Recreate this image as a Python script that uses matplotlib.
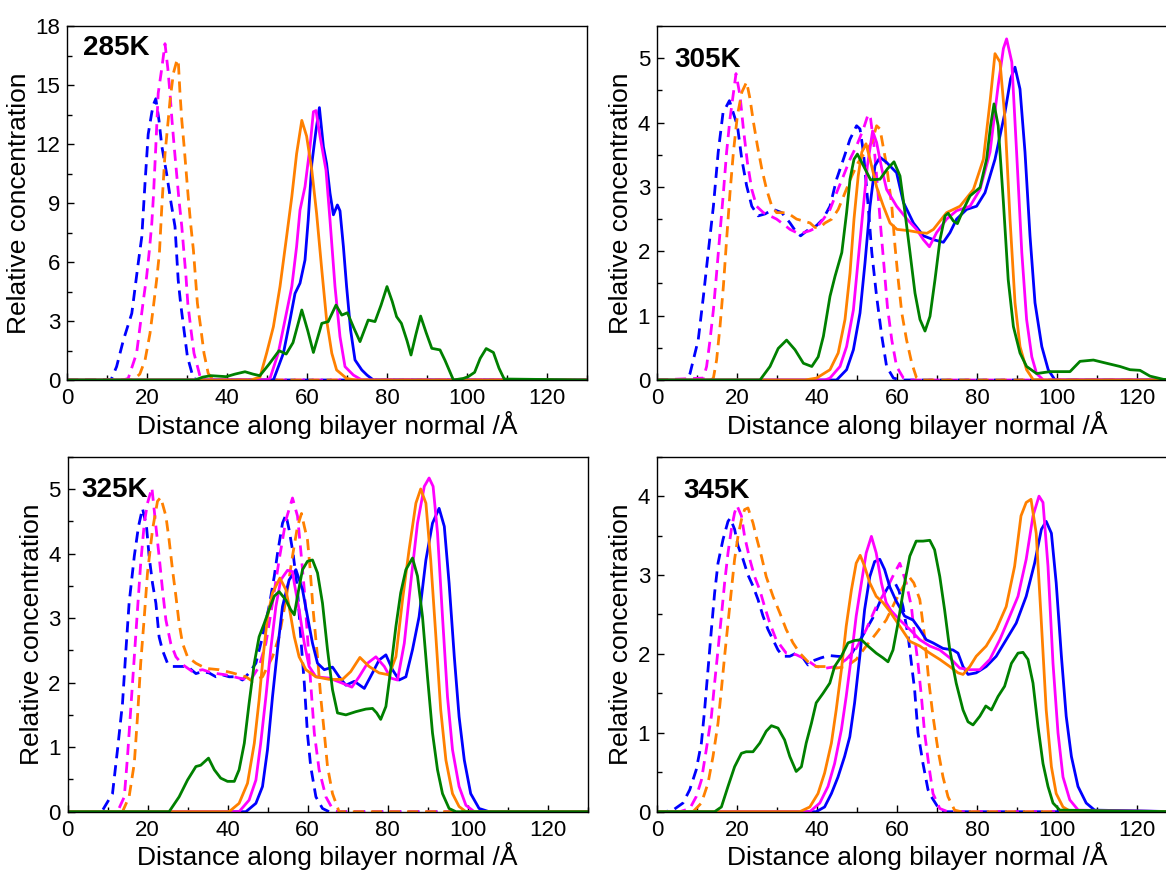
import matplotlib
matplotlib.use("Agg")
import matplotlib.pyplot as plt
from matplotlib.ticker import MultipleLocator

plt.rcParams['font.family'] = ['Liberation Sans', 'DejaVu Sans']

# ---- 285K ----
x285_bd = [0, 11, 12.4, 14.1, 16.2, 17.8, 18.7, 19.5, 20.3, 21.2, 21.6, 22.2, 23.0, 23.7, 24.9, 25.9, 27.0, 27.4, 27.8, 28.4, 29.25, 30.1, 31.6, 33, 130]
y285_bd = [0, 0, 0.68, 2.03, 3.39, 5.93, 7.29, 10.0, 12.5, 13.6, 14.0, 14.3, 13.2, 11.9, 10.5, 9.15, 7.8, 6.44, 5.08, 3.9, 2.54, 1.19, 0.08, 0, 0]
x285_md = [0, 14, 15.3, 17.4, 18.25, 19.1, 19.9, 20.6, 21.2, 21.6, 22.2, 22.8, 23.7, 24.5, 25.2, 25.75, 26.25, 26.8, 27.4, 28.0, 28.7, 29.25, 29.75, 30.2, 31.0, 31.75, 33.5, 130]
y285_md = [0, 0, 0.08, 1.36, 2.71, 4.07, 5.25, 6.61, 7.97, 9.32, 11.86, 14.58, 15.85, 17.1, 15.85, 14.58, 13.2, 11.86, 10.5, 9.15, 7.8, 6.44, 5.25, 3.9, 2.54, 1.36, 0, 0]
x285_od = [0, 16.5, 18.2, 19.5, 20.75, 21.6, 22.4, 23.1, 23.7, 24.5, 25.3, 25.75, 26.6, 27.4, 27.8, 28.25, 28.7, 29.25, 29.75, 30.3, 30.9, 31.6, 32.1, 32.6, 33.4, 34.25, 35.3, 36.5, 130]
y285_od = [0, 0, 0.3, 1.0, 2.37, 3.73, 5.08, 6.44, 8.8, 11.5, 13.2, 14.2, 15.6, 16.2, 16.3, 14.58, 13.2, 11.95, 10.7, 9.32, 7.97, 6.61, 5.25, 3.9, 2.71, 1.36, 0.34, 0, 0]
x285_b = [0, 51.6, 54.1, 55.75, 57, 58.25, 59.5, 60.3, 61.2, 62.25, 63.1, 64.1, 64.9, 65.75, 66.6, 67.6, 68.25, 69.1, 69.9, 70.9, 72, 73.7, 75, 76.6, 130]
y285_b = [0, 0, 1.36, 3.05, 4.4, 4.92, 6.1, 8.13, 11.0, 12.7, 13.85, 11.86, 11.0, 9.5, 8.4, 8.9, 8.6, 6.78, 4.75, 2.54, 1.02, 0.51, 0.25, 0, 0]
x285_m = [0, 49.5, 50.75, 52.8, 54.5, 56.2, 57.4, 58.25, 59.5, 60.75, 61.6, 62.25, 63.25, 64.75, 65.75, 67, 68.25, 69.5, 71.6, 73.7, 130]
y285_m = [0, 0, 0.08, 1.36, 3.05, 4.75, 6.78, 8.64, 9.83, 11.86, 13.64, 13.7, 12.4, 10.67, 8.13, 4.75, 2.2, 0.68, 0.25, 0, 0]
x285_o = [0, 46, 48.25, 49.9, 51.6, 53.25, 54.9, 56.2, 57.4, 58.7, 59.9, 61.2, 62.4, 63.7, 64.9, 66.2, 67.4, 69.9, 72, 130]
y285_o = [0, 0, 0.15, 1.36, 2.71, 4.75, 7.29, 9.32, 11.5, 13.2, 12.4, 10.67, 8.47, 5.59, 3.05, 1.36, 0.51, 0.08, 0, 0]
x285_g = [0, 32, 34, 36, 39.8, 42, 44.5, 46.5, 48.2, 50.5, 53, 54.8, 56.5, 58.7, 60.2, 61.6, 63.7, 65.3, 67.25, 68.7, 70.1, 71.8, 73.25, 75.3, 77, 78.5, 80, 81.3, 82.4, 83.6, 85, 86, 87.2, 88.4, 89.8, 91.2, 93.25, 94.5, 96.6, 99.1, 100.3, 101.9, 103.3, 104.8, 106.6, 108, 109.3, 130]
y285_g = [0, 0, 0.15, 0.22, 0.17, 0.3, 0.42, 0.3, 0.22, 0.8, 1.49, 1.32, 1.9, 3.56, 2.5, 1.4, 2.88, 2.97, 3.81, 3.3, 3.42, 2.6, 1.95, 3.05, 2.97, 3.8, 4.75, 4.0, 3.22, 2.88, 2.0, 1.27, 2.3, 3.25, 2.4, 1.61, 1.53, 1.0, 0, 0.08, 0.17, 0.39, 1.1, 1.6, 1.4, 0.6, 0.05, 0]

# ---- 305K ----
x305_bd = [0, 7.5, 8.25, 10.3, 11.6, 12.8, 14.1, 15.3, 16.5, 18.1, 20.1, 21.2, 22.4, 23.7, 25.3, 27, 29.1, 31.2, 33.25, 34.9, 35.9, 37.5, 39.9, 41.5, 43.25, 44.9, 46.6, 48.25, 49.9, 50.75, 51.6, 52.8, 53.7, 54.9, 56.2, 57.4, 59.1, 61, 130]
y305_bd = [0, 0, 0.1, 0.62, 1.3, 1.98, 2.7, 3.54, 4.15, 4.34, 3.95, 3.43, 3.02, 2.7, 2.55, 2.58, 2.65, 2.6, 2.44, 2.29, 2.24, 2.32, 2.4, 2.5, 2.7, 3.12, 3.43, 3.74, 3.95, 3.9, 3.54, 2.7, 1.98, 1.3, 0.68, 0.21, 0.03, 0, 0]
x305_md = [0, 11.6, 12.4, 13.25, 14.1, 14.9, 15.75, 16.6, 17.4, 18.25, 19.75, 20.75, 21.6, 22.6, 23.7, 24.9, 26.6, 28.25, 29.9, 31.6, 33.25, 34.9, 36.6, 38.25, 39.9, 41.6, 43.25, 44.9, 46.6, 48.25, 49.9, 51.6, 52.8, 53.4, 54.25, 55.1, 55.9, 56.75, 57.6, 58.7, 59.9, 61.6, 63, 130]
y305_md = [0, 0.03, 0.21, 0.62, 1.09, 1.66, 2.29, 2.91, 3.54, 4.06, 4.76, 4.42, 3.9, 3.38, 2.96, 2.7, 2.6, 2.55, 2.5, 2.42, 2.34, 2.29, 2.29, 2.32, 2.37, 2.5, 2.65, 2.91, 3.17, 3.43, 3.64, 3.9, 4.13, 4.06, 3.64, 3.02, 2.39, 1.77, 1.14, 0.62, 0.21, 0.03, 0, 0]
x305_od = [0, 13.5, 14.1, 14.9, 15.75, 16.6, 17.4, 18.25, 19.1, 20.1, 21.2, 22.4, 23.25, 24.1, 25.1, 26.2, 27.4, 28.7, 29.9, 31.6, 33.25, 34.9, 36.6, 38.25, 39.5, 40.75, 42, 43.7, 45.3, 47, 48.7, 50.3, 52, 53.7, 54.9, 55.75, 57.4, 58.7, 59.5, 60.3, 61.2, 62.4, 63.7, 64.9, 66, 130]
y305_od = [0, 0, 0.03, 0.31, 0.83, 1.46, 2.18, 2.91, 3.54, 4.11, 4.47, 4.63, 4.37, 4.01, 3.64, 3.28, 2.96, 2.7, 2.6, 2.6, 2.57, 2.5, 2.47, 2.44, 2.37, 2.37, 2.44, 2.5, 2.65, 2.91, 3.17, 3.38, 3.54, 3.69, 3.95, 3.9, 3.33, 2.7, 2.08, 1.56, 1.04, 0.62, 0.26, 0.03, 0, 0]
x305_b = [0, 44.9, 47.4, 49.1, 50.75, 52, 53.25, 54.5, 55.75, 57.4, 59.9, 61.6, 64.1, 66.6, 69.1, 71.6, 73.25, 74.9, 77.4, 79.9, 82, 84.5, 87, 88.4, 89.5, 90.75, 92, 93.25, 94.5, 96.2, 97.8, 99.5, 130]
y305_b = [0, 0, 0.16, 0.47, 1.04, 1.82, 2.7, 3.33, 3.46, 3.38, 3.22, 2.76, 2.44, 2.24, 2.18, 2.14, 2.29, 2.5, 2.65, 2.7, 2.91, 3.43, 4.16, 4.68, 4.86, 4.52, 3.54, 2.24, 1.2, 0.52, 0.16, 0, 0]
x305_m = [0, 42, 43.25, 45.75, 47.4, 49.1, 50.3, 51.6, 52.6, 53.9, 54.9, 56.2, 57.4, 59.9, 62.5, 64.9, 66.6, 68.1, 69.9, 72.4, 74.9, 78.25, 80.75, 83.25, 85.3, 86.6, 87.4, 88.7, 89.9, 91.2, 92.4, 93.7, 94.9, 96.6, 130]
y305_m = [0, 0, 0.03, 0.21, 0.52, 1.09, 1.87, 2.7, 3.33, 3.87, 3.69, 3.28, 2.96, 2.7, 2.5, 2.34, 2.18, 2.07, 2.29, 2.5, 2.63, 2.7, 2.96, 3.54, 4.58, 5.15, 5.3, 4.94, 3.54, 1.98, 0.94, 0.36, 0.1, 0, 0]
x305_o = [0, 37, 39.9, 43.25, 45.3, 47, 48.25, 49.25, 50.3, 51.2, 52.25, 53.25, 54.9, 56.6, 58.25, 60, 63, 65.75, 67.5, 69.1, 72.4, 75.75, 79.1, 81.6, 83.25, 84.5, 85.75, 87, 88.25, 89.5, 90.75, 92.4, 94.1, 130]
y305_o = [0, 0, 0.03, 0.16, 0.42, 0.94, 1.66, 2.5, 3.17, 3.54, 3.67, 3.43, 3.0, 2.7, 2.44, 2.34, 2.32, 2.29, 2.28, 2.34, 2.6, 2.7, 2.96, 3.43, 4.32, 5.07, 4.94, 4.05, 2.5, 1.2, 0.52, 0.16, 0, 0]
x305_g = [0, 25.75, 28.25, 30.3, 32.4, 34.5, 36.6, 38.7, 40.3, 41.6, 43.25, 44.5, 46.2, 47.4, 48.25, 49.25, 50.1, 51.6, 53.4, 55.75, 57.6, 59.25, 60.75, 62, 63.25, 64.5, 65.75, 67, 68.25, 69.5, 70.75, 72, 72.8, 74.1, 75.1, 76.6, 78.25, 80.75, 82.4, 83.4, 84.25, 85.3, 86.6, 87.8, 89.1, 90.75, 92.4, 94.9, 98.25, 100.75, 103.25, 105.75, 109.1, 112.4, 115.75, 118.25, 120.75, 123.25, 126.6, 130]
y305_g = [0, 0, 0.21, 0.49, 0.62, 0.47, 0.26, 0.21, 0.36, 0.68, 1.3, 1.61, 1.98, 2.6, 3.12, 3.43, 3.51, 3.33, 3.11, 3.12, 3.28, 3.39, 3.17, 2.6, 1.98, 1.35, 0.94, 0.76, 0.99, 1.56, 2.18, 2.55, 2.59, 2.47, 2.43, 2.65, 2.86, 2.99, 3.43, 3.95, 4.29, 3.95, 2.76, 1.56, 0.83, 0.42, 0.21, 0.1, 0.13, 0.13, 0.13, 0.29, 0.31, 0.26, 0.21, 0.16, 0.15, 0.06, 0.01, 0]

# ---- 325K ----
x325_bd = [0, 7.5, 8.75, 11.25, 12.5, 13.75, 14.6, 15.4, 16.7, 17.75, 18.75, 19.75, 20.4, 21.25, 22.1, 22.9, 23.75, 25, 26.25, 27.9, 30, 32.1, 33.75, 35.4, 37.1, 38.75, 40.4, 42.1, 43.75, 45.4, 47.1, 48.75, 50.4, 51.7, 52.5, 53.75, 54.6, 55.4, 56.4, 57.5, 58.3, 59.2, 60, 60.8, 62.1, 63.75, 65.4, 130]
y325_bd = [0, 0, 0.02, 0.28, 0.96, 1.68, 2.5, 3.23, 3.96, 4.42, 4.7, 4.42, 3.96, 3.54, 3.23, 2.71, 2.5, 2.3, 2.25, 2.25, 2.25, 2.14, 2.17, 2.15, 2.09, 2.12, 2.09, 2.09, 2.04, 2.15, 2.3, 2.71, 3.18, 3.65, 4.0, 4.47, 4.6, 4.37, 4.0, 3.44, 2.71, 1.99, 1.2, 0.7, 0.23, 0.05, 0, 0]
x325_md = [0, 12.5, 14.2, 15, 15.8, 16.7, 17.5, 18.3, 19.2, 20, 21.1, 22.1, 22.9, 23.75, 24.6, 25.8, 27.1, 28.75, 31.25, 33.75, 36.25, 39.6, 42.9, 45.8, 47.9, 49.6, 51.25, 52.9, 54.6, 56.25, 57.5, 58.3, 59.2, 60, 60.8, 61.7, 62.9, 64.6, 66.2, 67.9, 130]
y325_md = [0, 0, 0.23, 0.85, 1.58, 2.4, 3.13, 3.85, 4.47, 4.78, 5.02, 4.42, 3.96, 3.44, 2.97, 2.61, 2.4, 2.28, 2.17, 2.2, 2.15, 2.12, 2.07, 2.04, 2.25, 2.61, 3.23, 3.9, 4.52, 4.86, 4.58, 4.06, 3.44, 2.71, 1.99, 1.22, 0.65, 0.23, 0.05, 0, 0]
x325_od = [0, 13.75, 15.4, 16.7, 17.5, 18.3, 19.2, 20, 21.25, 22.5, 23.3, 24.6, 25.4, 26.25, 27.1, 27.9, 28.75, 30, 32.1, 34.6, 37.9, 41.25, 44.6, 46.25, 48.75, 51.25, 52.9, 54.6, 56.25, 57.5, 58.5, 59.2, 60, 60.6, 61.4, 62.5, 63.3, 64.2, 65, 66.25, 67.9, 130]
y325_od = [0, 0, 0.23, 0.75, 1.47, 2.3, 3.02, 3.7, 4.37, 4.81, 4.87, 4.58, 4.21, 3.75, 3.34, 2.92, 2.61, 2.4, 2.3, 2.22, 2.2, 2.15, 2.09, 2.02, 2.09, 2.4, 2.71, 3.28, 3.96, 4.42, 4.62, 4.42, 4.21, 3.8, 3.13, 2.4, 1.78, 1.22, 0.7, 0.28, 0, 0]
x325_b = [0, 44.6, 47.1, 48.75, 50, 51.25, 52.5, 53.75, 55.4, 57.1, 58.75, 60, 61.25, 62.5, 64.2, 66.25, 67.9, 69.6, 71.7, 74.2, 76.25, 77.9, 79.6, 81.25, 82.9, 84.6, 86.25, 87.9, 89.6, 91.25, 92.9, 94.2, 95.4, 96.7, 97.9, 99.2, 100.8, 102.9, 105.4, 130]
y325_b = [0, 0, 0.13, 0.39, 0.96, 1.78, 2.51, 3.18, 3.59, 3.75, 3.44, 3.02, 2.61, 2.3, 2.2, 2.24, 2.09, 1.96, 2.02, 1.91, 2.15, 2.35, 2.43, 2.2, 2.04, 2.09, 2.51, 3.02, 3.9, 4.47, 4.7, 4.42, 3.54, 2.4, 1.47, 0.8, 0.28, 0.05, 0, 0]
x325_m = [0, 42.9, 45.4, 47.1, 48.3, 49.6, 50.8, 52.1, 53.3, 55, 56.25, 56.7, 57.9, 59.2, 60.4, 62.1, 65.4, 68.75, 71.1, 72.9, 75, 77.1, 79.2, 80.8, 82.5, 84.2, 85.8, 87.5, 89.2, 90.4, 91.4, 92.5, 93.75, 95, 96.25, 97.9, 99.6, 101.7, 130]
y325_m = [0, 0, 0.18, 0.49, 1.06, 1.78, 2.51, 3.18, 3.59, 3.74, 3.72, 3.54, 3.13, 2.61, 2.25, 2.09, 2.07, 1.99, 1.93, 2.09, 2.3, 2.4, 2.25, 2.07, 2.04, 2.61, 3.54, 4.47, 5.04, 5.17, 5.04, 4.32, 3.02, 1.78, 0.96, 0.39, 0.1, 0, 0]
x325_o = [0, 40.4, 42.9, 45, 46.7, 47.9, 48.9, 50, 51.25, 53.1, 54.6, 55.4, 56.7, 57.9, 59.6, 62.1, 65.4, 68.75, 70.8, 73.1, 75.4, 77.9, 80.4, 82.1, 83.75, 85.4, 87.1, 88.3, 89.6, 90.8, 92.1, 93.3, 94.6, 96.25, 97.9, 99.6, 130]
y325_o = [0, 0, 0.13, 0.44, 1.06, 1.73, 2.4, 3.02, 3.39, 3.62, 3.44, 3.18, 2.71, 2.4, 2.2, 2.09, 2.05, 2.05, 2.17, 2.39, 2.25, 2.15, 2.12, 2.4, 3.28, 4.06, 4.78, 5.0, 4.78, 3.9, 2.71, 1.58, 0.8, 0.28, 0.08, 0, 0]
x325_g = [0, 25.4, 27.9, 30, 32.1, 33.3, 35.25, 36.7, 38.3, 40, 41.7, 42.9, 44.2, 45.4, 46.7, 47.9, 49.2, 50.4, 51.7, 52.9, 54.6, 55.8, 56.7, 57.5, 58.75, 60, 61.25, 62.5, 63.75, 65, 66.25, 67.5, 69.6, 72.1, 74.6, 76.25, 77.3, 78.3, 79.6, 80.8, 82.1, 83.3, 84.6, 86.25, 87.5, 88.75, 90, 91.25, 92.5, 93.75, 95.4, 97.1, 130]
y325_g = [0, 0, 0.23, 0.49, 0.7, 0.72, 0.83, 0.65, 0.52, 0.47, 0.47, 0.65, 1.06, 1.68, 2.3, 2.71, 2.92, 3.13, 3.34, 3.41, 3.28, 3.13, 3.05, 3.34, 3.75, 3.88, 3.9, 3.7, 3.23, 2.51, 1.89, 1.53, 1.5, 1.55, 1.59, 1.6, 1.53, 1.43, 1.63, 2.2, 2.87, 3.39, 3.75, 3.93, 3.65, 3.02, 2.09, 1.22, 0.65, 0.28, 0.05, 0, 0]

# ---- 345K ----
x345_bd = [0, 2, 4, 6.5, 8.2, 9.8, 11.1, 11.9, 12.75, 13.6, 14.4, 15.25, 16.5, 17.75, 18.3, 19.4, 20.25, 21.5, 22.75, 24, 25.25, 26.5, 27.75, 29, 30.25, 31.5, 33.2, 34.8, 36.5, 37.75, 39.4, 41, 43, 45, 48.1, 51.3, 54.1, 55.9, 57.8, 59.5, 60.5, 61.5, 62.8, 63.6, 64.4, 65.25, 66.5, 67.75, 68.6, 70.7, 72.5, 130]
y345_bd = [0, 0, 0.02, 0.11, 0.28, 0.53, 0.87, 1.29, 1.8, 2.31, 2.77, 3.15, 3.45, 3.68, 3.72, 3.58, 3.37, 3.2, 3.0, 2.86, 2.69, 2.48, 2.31, 2.18, 2.05, 1.97, 1.97, 2.01, 1.95, 1.86, 1.92, 1.95, 1.98, 1.97, 1.96, 2.22, 2.47, 2.68, 2.85, 2.9, 2.8, 2.6, 2.22, 1.88, 1.55, 1.0, 0.61, 0.28, 0.19, 0.02, 0, 0]
x345_md = [0, 5.7, 8.2, 9.8, 11.1, 12.3, 13.6, 14.4, 15.25, 16.1, 16.9, 17.75, 18.6, 19.4, 20, 21.1, 21.9, 23.2, 24.4, 25.7, 26.9, 28.2, 29.8, 32.3, 34.8, 37.3, 39.8, 42.3, 44.8, 47.3, 49.8, 52.3, 54.8, 57.3, 59.4, 60.7, 62.3, 63.6, 64.4, 65.25, 66.1, 66.9, 68, 69, 70.7, 72.7, 130]
y345_md = [0, 0, 0.04, 0.19, 0.4, 0.78, 1.21, 1.63, 2.05, 2.48, 2.9, 3.28, 3.58, 3.79, 3.88, 3.75, 3.49, 3.2, 2.98, 2.81, 2.6, 2.39, 2.18, 2.01, 1.99, 1.93, 1.84, 1.82, 1.84, 1.93, 2.07, 2.31, 2.6, 2.81, 3.03, 3.15, 2.9, 2.6, 2.22, 1.88, 1.46, 1.0, 0.57, 0.23, 0.04, 0, 0]
x345_od = [0, 9, 11.1, 12.75, 14, 15.25, 16.1, 16.9, 17.75, 18.6, 19.4, 20.25, 21.1, 21.9, 22.75, 24, 24.8, 26.1, 27.3, 29, 30.7, 32.3, 34, 35.7, 37.75, 39.8, 42.3, 44.8, 47.3, 49.8, 52.3, 54.8, 57.3, 59.4, 61.5, 63, 64.2, 65.7, 66.9, 68, 69, 70.25, 71.5, 72.75, 74.4, 76, 130]
y345_od = [0, 0, 0.11, 0.36, 0.7, 1.12, 1.55, 1.97, 2.39, 2.81, 3.2, 3.49, 3.7, 3.83, 3.85, 3.66, 3.49, 3.24, 2.98, 2.73, 2.52, 2.31, 2.14, 2.01, 1.9, 1.84, 1.84, 1.82, 1.84, 1.93, 2.1, 2.26, 2.43, 2.65, 2.85, 2.98, 2.9, 2.69, 2.22, 1.63, 1.21, 0.78, 0.44, 0.19, 0.02, 0, 0]
x345_b = [0, 39.8, 41.9, 43.6, 45.25, 46.9, 48.2, 49.4, 50.7, 51.9, 53.2, 54.4, 55.7, 56.9, 58.2, 59.8, 61.9, 64, 65.7, 67.3, 69, 71.5, 74, 75.25, 76.5, 77.75, 79.8, 82.3, 84.8, 87.3, 89.8, 92.3, 94.4, 96.1, 97.3, 98.6, 99.8, 101.1, 102.3, 103.6, 105.25, 107.3, 109.4, 130]
y345_b = [0, 0, 0.06, 0.23, 0.44, 0.7, 0.95, 1.38, 1.97, 2.56, 2.98, 3.17, 3.2, 3.07, 2.85, 2.67, 2.48, 2.43, 2.31, 2.18, 2.14, 2.07, 2.05, 2.01, 1.84, 1.74, 1.76, 1.84, 1.97, 2.18, 2.39, 2.73, 3.15, 3.58, 3.68, 3.53, 2.9, 1.97, 1.21, 0.7, 0.32, 0.11, 0.02, 0]
x345_m = [0, 38.2, 40.7, 42.75, 44.4, 46.1, 47.3, 48.6, 49.8, 51.1, 52.3, 53.6, 54.8, 56.1, 57.3, 58.5, 60.7, 63.2, 65.7, 68.2, 70.7, 73.2, 75.7, 78.2, 80.7, 83.2, 85.7, 88.2, 90.25, 92.3, 94, 95.5, 96.5, 97.75, 99, 100.25, 101.5, 103.2, 105.3, 130]
y345_m = [0, 0, 0.11, 0.32, 0.61, 1.04, 1.46, 1.97, 2.48, 2.9, 3.28, 3.49, 3.28, 2.9, 2.65, 2.55, 2.43, 2.31, 2.18, 2.1, 2.05, 1.95, 1.82, 1.8, 1.8, 1.93, 2.18, 2.48, 2.73, 3.2, 3.75, 4.0, 3.92, 3.11, 1.88, 1.0, 0.44, 0.15, 0.02, 0]
x345_o = [0, 35.7, 38.2, 40.25, 41.9, 43.6, 44.8, 46.1, 47.3, 48.6, 49.8, 50.8, 51.9, 53.2, 54.8, 56.5, 58.2, 60.7, 63.2, 65.7, 68.2, 70.7, 73.2, 75.25, 76.5, 78.2, 79.8, 82.3, 84.8, 87.3, 89.4, 91, 92.3, 93.5, 94.8, 96, 97.3, 98.6, 99.8, 101.5, 103.5, 130]
y345_o = [0, 0, 0.06, 0.23, 0.49, 0.87, 1.29, 1.8, 2.35, 2.81, 3.15, 3.25, 3.11, 2.9, 2.73, 2.65, 2.54, 2.35, 2.16, 2.1, 2.01, 1.93, 1.84, 1.76, 1.74, 1.84, 1.97, 2.1, 2.31, 2.6, 3.11, 3.75, 3.92, 3.96, 3.53, 2.48, 1.29, 0.57, 0.23, 0.06, 0, 0]
x345_g = [0, 14.4, 16.1, 17.75, 19.4, 21.1, 22.3, 24, 25.7, 27.3, 28.6, 30.25, 31.9, 33.2, 34.8, 36.1, 37.3, 38.6, 39.8, 41.5, 43.2, 44.4, 46.1, 47.75, 49.4, 51.1, 52.75, 54.8, 56.5, 57.75, 59, 60.25, 61.9, 63.2, 64.8, 66.5, 68.2, 69.4, 70.7, 71.9, 73.2, 74.8, 76.5, 77.75, 79, 80.7, 82.2, 83.6, 85.25, 86.9, 88.6, 90.25, 91.5, 92.75, 94, 95.25, 96.5, 97.75, 99, 100.7, 130]
y345_g = [0, 0, 0.06, 0.32, 0.57, 0.74, 0.76, 0.76, 0.87, 1.02, 1.09, 1.06, 0.91, 0.7, 0.51, 0.57, 0.87, 1.12, 1.38, 1.5, 1.63, 1.84, 1.97, 2.14, 2.17, 2.18, 2.1, 2.01, 1.95, 1.9, 2.05, 2.39, 2.9, 3.24, 3.43, 3.43, 3.44, 3.32, 2.98, 2.56, 2.05, 1.63, 1.29, 1.14, 1.1, 1.21, 1.34, 1.29, 1.46, 1.59, 1.88, 2.01, 2.02, 1.93, 1.63, 1.08, 0.61, 0.32, 0.11, 0.02, 0]

BLUE, MAG, ORG, GRN = '#0000FF', '#FF00FF', '#FF8000', '#008000'
DASH = (0, (4, 2.5))
LW = 2.0

fig = plt.figure(figsize=(11.66, 8.75), dpi=100)
W, H = 1166.0, 875.0


def add_panel(left, top, bottom):
    # pixel box -> figure fraction (axes is 520 px wide = 0..130 A)
    return fig.add_axes([left / W, (H - bottom) / H, 520 / W, (bottom - top) / H])


def draw(ax, curves, ymax, ymajor, label, lab_xy):
    dashed, solid = curves
    for (xs, ys), c in zip(dashed, [BLUE, MAG, ORG]):
        ax.plot(xs, ys, color=c, lw=LW, linestyle=DASH,
                dash_joinstyle='round', dash_capstyle='butt')
    for (xs, ys), c in zip(solid, [BLUE, MAG, ORG, GRN]):
        ax.plot(xs, ys, color=c, lw=LW, solid_joinstyle='round')
    ax.set_xlim(0, 130)
    ax.set_ylim(0, ymax)
    ax.xaxis.set_major_locator(MultipleLocator(20))
    ax.xaxis.set_minor_locator(MultipleLocator(10))
    ax.yaxis.set_major_locator(MultipleLocator(ymajor))
    ax.yaxis.set_minor_locator(MultipleLocator(ymajor / 2))
    ax.tick_params(which='both', direction='in', labelsize=16, top=False, right=False)
    ax.tick_params(which='major', length=5, width=1)
    ax.tick_params(which='minor', length=3.5, width=1)
    ax.tick_params(axis='x', pad=6)
    ax.tick_params(axis='y', pad=5)
    for s in ax.spines.values():
        s.set_linewidth(1.0)
    ax.set_xlabel('Distance along bilayer normal /Å', fontsize=19, labelpad=1)
    ax.set_ylabel('Relative concentration', fontsize=19, labelpad=3)
    ax.text(lab_xy[0], lab_xy[1], label, transform=ax.transAxes, fontsize=20,
            fontweight='bold', va='baseline', ha='left')


ax1 = add_panel(67, 26, 380)
draw(ax1, ([(x285_bd, y285_bd), (x285_md, y285_md), (x285_od, y285_od)],
           [(x285_b, y285_b), (x285_m, y285_m), (x285_o, y285_o), (x285_g, y285_g)]),
     18, 3, '285K', (0.031, 0.918))

ax2 = add_panel(657, 26, 380)
draw(ax2, ([(x305_bd, y305_bd), (x305_md, y305_md), (x305_od, y305_od)],
           [(x305_b, y305_b), (x305_m, y305_m), (x305_o, y305_o), (x305_g, y305_g)]),
     5.5, 1, '305K', (0.034, 0.885))

ax3 = add_panel(67.5, 456.7, 811.7)
draw(ax3, ([(x325_bd, y325_bd), (x325_md, y325_md), (x325_od, y325_od)],
           [(x325_b, y325_b), (x325_m, y325_m), (x325_o, y325_o), (x325_g, y325_g)]),
     5.5, 1, '325K', (0.026, 0.887))

ax4 = add_panel(657, 456.7, 811.7)
draw(ax4, ([(x345_bd, y345_bd), (x345_md, y345_md), (x345_od, y345_od)],
           [(x345_b, y345_b), (x345_m, y345_m), (x345_o, y345_o), (x345_g, y345_g)]),
     4.5, 1, '345K', (0.05, 0.883))

fig.savefig('out.png', dpi=100)
